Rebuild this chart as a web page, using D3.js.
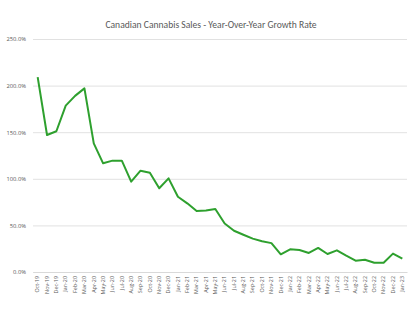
<!DOCTYPE html>
<html><head><meta charset="utf-8">
<script src="https://cdn.jsdelivr.net/npm/d3@7"></script>
<style>body{margin:0;background:#fff}svg{display:block}</style>
</head><body>
<svg id="chart" width="420" height="322"></svg>
<script>
const months = ["Oct-19","Nov-19","Dec-19","Jan-20","Feb-20","Mar-20","Apr-20","May-20","Jun-20","Jul-20","Aug-20","Sep-20","Oct-20","Nov-20","Dec-20","Jan-21","Feb-21","Mar-21","Apr-21","May-21","Jun-21","Jul-21","Aug-21","Sep-21","Oct-21","Nov-21","Dec-21","Jan-22","Feb-22","Mar-22","Apr-22","May-22","Jun-22","Jul-22","Aug-22","Sep-22","Oct-22","Nov-22","Dec-22","Jan-23"];
const growth = [209,147,151,178.5,189,197,138,116.6,119.5,119.5,97,108.7,106.5,89.8,100.5,80.8,73.7,65.5,66,67.6,52,44.3,40,35.8,33,31,19,24.3,23.6,20.4,25.8,19.3,23.2,17.5,12.2,13.2,10,10,19.7,14.3];
const yTicks = [0,50,100,150,200,250];
const title = "Canadian Cannabis Sales - Year-Over-Year Growth Rate";

(function(){
const svg = d3.select("#chart");
const mLeft = 33, mRight = 407, mTop = 39, mBottom = 272;
const x = d3.scaleBand().domain(months).range([mLeft, mRight]);
const y = d3.scaleLinear().domain([0,250]).range([mBottom, mTop]);

svg.append("text").attr("x", 211).attr("y", 28).attr("text-anchor","middle")
  .attr("font-family","Carlito, 'Open Sans', sans-serif").attr("font-size", 9.6)
  .attr("fill","#595959").text(title);

const yAxis = svg.append("g").attr("transform",`translate(${mLeft},0)`)
  .call(d3.axisLeft(y).tickValues(yTicks).tickSize(-(mRight-mLeft)).tickFormat(d=>d.toFixed(1)+"%"));
yAxis.select(".domain").remove();
yAxis.selectAll(".tick line").attr("stroke","#d9d9d9").attr("stroke-width",0.8);
yAxis.selectAll(".tick text").attr("x",-7).attr("fill","#595959")
  .attr("font-family","'Open Sans', sans-serif").attr("font-size",5.8);

const xAxis = svg.append("g").attr("transform",`translate(0,${mBottom})`)
  .call(d3.axisBottom(x).tickSize(0));
xAxis.select(".domain").attr("stroke","#d9d9d9");
xAxis.selectAll(".tick text").attr("transform","rotate(-90)").attr("text-anchor","end")
  .attr("x",-4).attr("y",0).attr("dy","0.32em").attr("fill","#595959")
  .attr("font-family","'Open Sans', sans-serif").attr("font-size",5.4);

const line = d3.line().x((d,i)=>x(months[i])+x.bandwidth()/2).y(d=>y(d));
svg.append("path").datum(growth).attr("d",line).attr("fill","none")
  .attr("stroke","#2ea02e").attr("stroke-width",2).attr("stroke-linejoin","round");
})();
</script>
</body></html>
